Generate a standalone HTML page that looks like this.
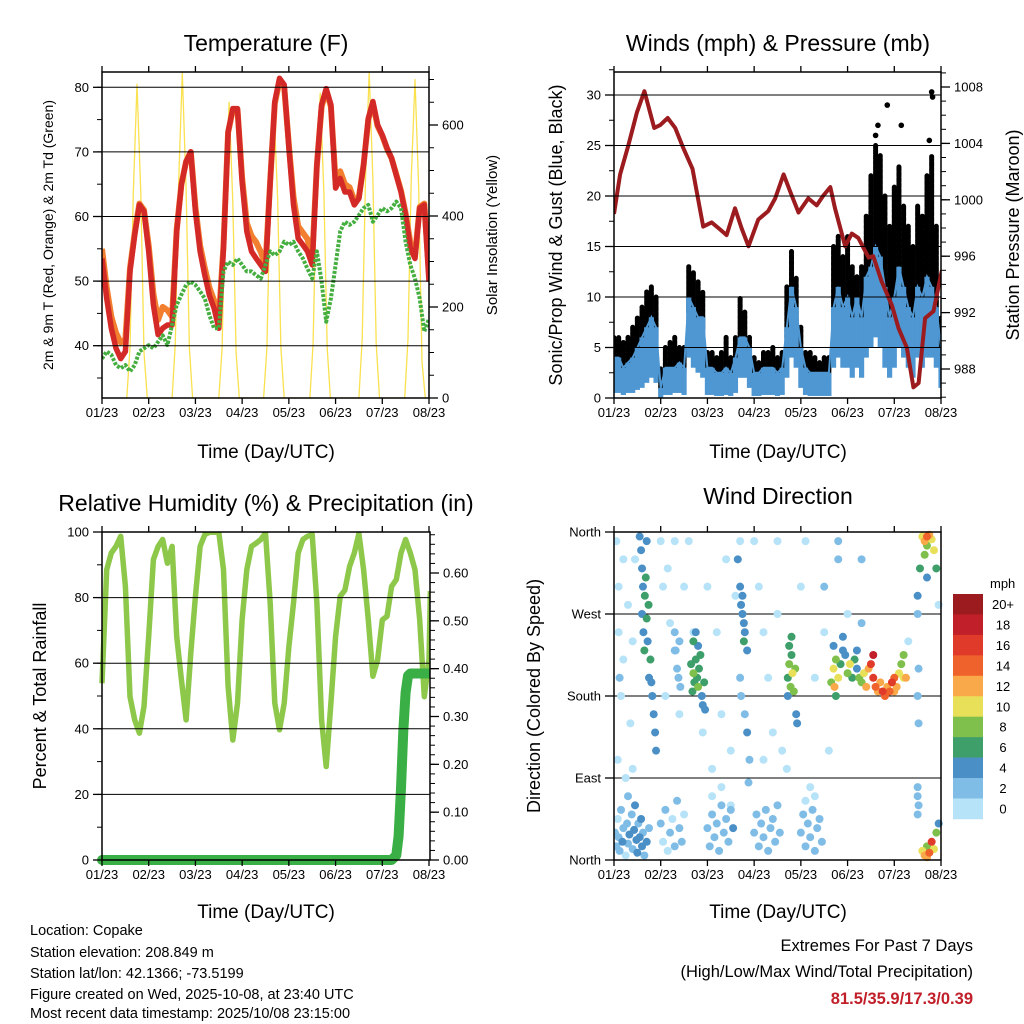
<!DOCTYPE html>
<html><head><meta charset="utf-8"><title>Station Meteogram - Copake</title>
<style>
html,body{margin:0;padding:0;background:#fff;}
svg{display:block;font-family:"Liberation Sans",Arial,sans-serif;}
</style></head>
<body>
<svg id="fig" width="1024" height="1024" viewBox="0 0 1024 1024" xmlns="http://www.w3.org/2000/svg">
<rect width="1024" height="1024" fill="#fff"/>
<g id="g"></g>
<text x="266" y="51" font-size="23" text-anchor="middle">Temperature (F)</text>
<text x="778" y="51" font-size="23" text-anchor="middle">Winds (mph) &amp; Pressure (mb)</text>
<text x="266" y="511" font-size="23" text-anchor="middle">Relative Humidity (%) &amp; Precipitation (in)</text>
<text x="778" y="504" font-size="23" text-anchor="middle">Wind Direction</text>
<text x="266" y="458" font-size="19" text-anchor="middle">Time (Day/UTC)</text>
<text x="778" y="458" font-size="19" text-anchor="middle">Time (Day/UTC)</text>
<text x="266" y="918" font-size="19" text-anchor="middle">Time (Day/UTC)</text>
<text x="778" y="918" font-size="19" text-anchor="middle">Time (Day/UTC)</text>
<text transform="translate(53,235) rotate(-90)" font-size="14" text-anchor="middle">2m &amp; 9m T (Red, Orange) &amp; 2m Td (Green)</text>
<text transform="translate(497,235) rotate(-90)" font-size="15" text-anchor="middle">Solar Insolation (Yellow)</text>
<text transform="translate(562,235) rotate(-90)" font-size="18" text-anchor="middle">Sonic/Prop Wind &amp; Gust (Blue, Black)</text>
<text transform="translate(1019,235) rotate(-90)" font-size="18" text-anchor="middle">Station Pressure (Maroon)</text>
<text transform="translate(46,696) rotate(-90)" font-size="18" text-anchor="middle">Percent &amp; Total Rainfall</text>
<text transform="translate(540,696) rotate(-90)" font-size="18" text-anchor="middle">Direction (Colored By Speed)</text>
<g font-size="14.5">
<text x="30" y="935">Location: Copake</text>
<text x="30" y="957">Station elevation: 208.849 m</text>
<text x="30" y="978">Station lat/lon: 42.1366; -73.5199</text>
<text x="30" y="999">Figure created on Wed, 2025-10-08, at 23:40 UTC</text>
<text x="30" y="1018">Most recent data timestamp: 2025/10/08 23:15:00</text>
</g>
<text x="973" y="951" font-size="16.5" text-anchor="end">Extremes For Past 7 Days</text>
<text x="973" y="977" font-size="16.5" text-anchor="end">(High/Low/Max Wind/Total Precipitation)</text>
<text x="973" y="1004" font-size="16.5" font-weight="bold" fill="#c1202a" text-anchor="end">81.5/35.9/17.3/0.39</text>
</svg>
<script>
// ---------- DATA ----------
const dayTicks = ["01/23","02/23","03/23","04/23","05/23","06/23","07/23","08/23"];
const sampleStep = 0.1; // days per sample
const tempRed = [53.5,47.3,42.7,39.6,38.0,39.1,51.5,57.1,61.8,60.8,54.6,46.3,41.7,42.7,43.2,43.2,57.7,64.9,68.5,70.0,60.8,54.6,50.9,47.8,45.8,42.7,55.1,73.1,76.7,76.7,65.4,57.7,54.6,53.5,52.5,51.5,65.4,77.8,81.4,80.4,70.6,61.8,56.6,55.6,54.6,52.5,68.0,77.3,79.8,77.3,64.4,65.9,63.8,63.8,61.8,62.8,68.0,75.2,77.8,74.2,72.6,70.6,69.0,66.4,63.8,60.2,55.1,53.5,61.3,61.8,49.9];
const tempOrange = [55.0,49.0,44.5,42.0,40.5,41.0,52.0,57.5,62.0,61.0,55.5,48.0,44.0,46.0,45.5,44.5,58.0,65.0,68.5,70.0,61.5,55.5,52.0,49.0,47.0,44.0,55.5,73.0,76.5,76.5,66.0,59.0,57.0,56.0,54.5,52.5,65.5,77.5,81.0,80.0,71.0,63.0,58.5,57.5,56.5,53.5,68.0,77.0,79.5,77.0,65.5,67.0,65.0,64.5,62.5,63.0,68.0,75.0,77.5,74.0,72.5,70.5,69.0,66.5,64.0,60.5,56.0,54.0,61.5,62.0,51.0];
const dewGreen = [38.0,39.1,38.6,37.0,36.5,37.0,36.0,37.0,39.1,39.6,40.1,39.6,40.6,41.6,40.1,43.2,46.3,47.9,49.4,49.9,49.4,48.4,47.3,44.7,42.7,42.7,51.5,53.0,52.5,53.5,52.5,51.5,51.5,50.9,50.4,52.5,54.6,54.0,54.6,56.1,55.6,56.1,54.6,53.5,51.9,50.4,54.6,49.9,43.7,47.3,52.5,57.7,59.2,58.7,59.2,60.2,61.3,61.8,59.2,60.2,61.3,60.8,61.3,62.3,61.3,56.1,52.5,50.4,47.3,42.2,44.2];
const solarT = [0.53,0.60,0.67,0.75,0.83,0.90,0.97, 1.50,1.57,1.64,1.72,1.80,1.87,1.94, 2.50,2.57,2.64,2.72,2.80,2.87,2.94, 3.46,3.53,3.60,3.68,3.76,3.83,3.90, 4.45,4.52,4.59,4.67,4.75,4.82,4.89, 5.50,5.57,5.64,5.72,5.80,5.87,5.94, 6.48,6.55,6.62,6.70,6.78,6.85,6.92];
const solarV = [0,110,450,690,450,100,0, 0,120,470,715,460,110,0, 0,110,440,650,430,100,0, 0,110,450,640,440,110,0, 0,120,460,670,450,110,0, 0,130,480,716,480,120,0, 0,130,480,700,460,80,0];
const windLo = [0.5,0.5,0.3,0.5,0.5,0.8,1,1.5,2,1.5,0,0.3,0.3,0.5,0.5,0.3,4,3,2.5,2,0.3,0.3,0.2,0.2,0.3,0.2,0.5,2,2,1,0.2,0.2,0.3,0.3,0.3,0.2,0.3,2,4,3,1,0.3,0.2,0.2,0.2,0.2,0.2,3,4,3,3,2,3,2,4,5,6,5,3,2,3,5,4,3,2,4,3,4,4,3,1];
const windHi = [4,4,3,3.5,4,5,6,7,8,7,1,3,3,3,3.5,3,10,9,8,8,3,3,2.5,2.5,3,2.5,4,6,6,5,2.5,2.5,3,3,3,2.5,3,7,11,9,5,3,2.5,2.5,2.5,2.5,2.5,9,11,9,10,8,10,8,12,13,15,14,11,8,10,13,11,9,8,11,10,12,11,9,5];
const gustHi = [6,6,5.5,6,7,8,9,10.5,11,10,3,5,5.5,6,5,5,13,12.5,11.5,10.5,4.5,4.5,4,4.5,6,4,6,10,8.5,6,4,3.5,4.5,4.5,5,4,4.5,11,14.5,12,7,4.5,4.5,4,3.5,4,4,15,16,14,16,13,12,13,18,22,25,24,20,17,21,23,19,17,15,19,18,22,24,17,8];
const gustExtraT = [5.6,5.65,5.85,6.15,6.75,6.8,6.82];
const gustExtraV = [26,27,29,27,25.5,30.3,29.8];
const presT = [0.0,0.13,0.31,0.49,0.65,0.86,0.99,1.15,1.31,1.48,1.68,1.91,2.09,2.27,2.41,2.59,2.73,2.88,3.09,3.30,3.45,3.63,3.77,3.95,4.16,4.34,4.48,4.63,4.73,4.95,5.09,5.23,5.45,5.55,5.73,5.95,6.09,6.27,6.41,6.52,6.66,6.84,7.02];
const presV = [999.0,1001.8,1003.9,1006.2,1007.7,1005.1,1005.3,1005.8,1005.1,1003.7,1002.2,998.1,998.4,997.9,997.5,999.4,998.0,996.7,998.6,999.2,1000.1,1001.8,1000.6,999.1,1000.1,999.6,1000.3,1000.9,999.4,996.7,997.6,997.3,995.9,996.0,994.2,992.5,990.9,989.5,986.7,987.0,991.6,992.1,995.0];
const rhV = [53.9,88.5,93.6,95.6,98.7,83.4,49.8,42.7,38.7,46.8,68.2,91.6,95.6,97.7,90.5,95.6,68.2,55.0,42.7,63.1,80.3,95.6,99.2,99.9,99.9,99.9,88.5,52.9,36.6,47.8,73.2,88.5,95.6,96.6,97.7,99.7,78.3,47.8,39.7,47.8,65.1,78.3,93.6,97.7,98.7,99.2,78.3,42.7,28.5,47.8,68.2,80.4,82.3,89.5,93.6,99.5,88.5,73.2,56.0,61.0,73.2,74.3,83.4,85.5,93.6,97.7,93.6,88.5,73.2,49.8,61.0];
const rhEndT = [7.0,7.03];
const rhEndV = [61.0,82.0];
const precipT = [0,6.2,6.3,6.35,6.4,6.45,6.5,6.55,6.6,7.03];
const precipV = [0,0,0.01,0.05,0.15,0.27,0.35,0.385,0.39,0.39];
const dirT = [0.02,0.05,0.08,0.1,0.12,0.15,0.18,0.2,0.25,0.28,0.3,0.33,0.38,0.4,0.43,0.45,0.48,0.5,0.52,0.55,0.58,0.6,0.62,0.65,0.7,0.75,
0.55,0.58,0.6,0.62,0.6,0.63,0.65,0.66,0.7,0.72,0.75,0.78,0.8,0.82,0.85,0.88,0.9,0.68,0.7,0.74,
0.05,0.1,0.1,0.12,0.15,0.2,0.08,0.25,0.3,0.35,0.4,0.45,0.2,0.3,0.4,1.0,1.05,1.1,1.15,1.2,1.3,1.3,1.4,1.5,1.6,1.7,1.9,2.0,2.1,2.2,2.3,2.4,2.5,2.6,2.7,2.5,3.0,3.1,3.2,3.2,3.3,3.4,3.5,3.5,3.6,3.7,4.0,4.1,4.2,4.3,4.5,4.5,4.6,4.8,4.8,5.0,5.3,5.3,6.5,6.3,6.95,
1.3,1.32,1.35,1.38,1.4,1.42,
1.65,1.7,1.72,1.75,1.78,1.8,1.82,1.85,1.68,1.88,1.9,1.93,1.7,1.75,1.8,1.95,
1.0,1.05,1.1,1.15,1.2,1.25,1.3,1.35,1.4,1.45,1.5,
2.0,2.05,2.1,2.15,2.2,2.25,2.3,2.35,2.4,2.45,2.5,2.55,2.1,2.3,
2.65,2.7,2.72,2.75,2.78,2.8,2.75,2.85,2.7,2.72,2.8,2.85,2.9,2.88,2.78,
3.0,3.05,3.1,3.15,3.2,3.25,3.3,3.35,3.4,3.45,3.5,3.55,
3.72,3.75,3.78,3.8,3.82,3.85,3.75,3.88,3.8,3.72,3.9,3.92,
4.0,4.05,4.1,4.15,4.2,4.25,4.3,4.35,4.4,4.45,4.1,4.3,
4.65,4.7,4.72,4.75,4.8,4.85,4.9,4.95,5.0,5.05,5.1,5.15,5.2,5.25,5.3,5.35,5.4,5.45,5.5,5.55,5.6,5.65,5.7,5.75,5.8,5.85,5.9,5.95,6.0,6.05,6.1,6.15,6.2,6.25,4.7,4.75,4.9,5.2,5.55,6.0,6.2,
6.5,6.5,6.52,6.52,6.5,6.5,6.52,6.5,
6.6,6.65,6.7,6.75,6.8,6.85,6.65,6.7,6.9,6.55,6.7,
6.6,6.65,6.7,6.75,6.8,6.85,6.9,6.95,6.7];
const dirD = [30,15,45,25,10,55,20,35,5,40,18,28,50,12,33,60,22,8,40,25,45,15,30,5,20,35,
355,340,320,300,270,250,230,290,265,240,200,220,195,180,160,140,120,310,350,280,
350,300,250,200,180,220,110,90,70,150,240,330,330,280,100,350,300,180,320,260,350,230,160,300,350,250,140,300,100,250,160,330,120,290,350,60,350,300,250,110,200,140,350,270,120,100,300,350,80,200,300,250,120,330,350,270,330,260,180,240,280,
250,230,210,200,240,190,
215,205,195,220,200,190,210,225,185,180,170,195,240,250,235,165,
40,20,55,10,30,45,15,65,35,20,50,
35,15,50,25,40,10,60,30,45,20,55,35,70,80,
330,300,280,270,260,250,290,230,200,180,160,140,110,85,240,
30,50,15,40,25,55,10,35,45,20,60,30,
200,215,190,225,205,185,235,210,245,180,160,150,
30,50,15,40,25,55,10,35,45,20,65,70,
195,210,190,220,200,215,230,225,205,215,200,220,210,200,195,205,190,210,215,200,190,185,195,185,180,190,185,195,200,190,205,215,225,200,235,180,245,230,225,185,200,
290,270,210,150,80,70,60,50,
355,350,345,357,352,340,335,355,320,320,310,
10,5,15,8,20,12,30,40,3];
const dirS = [2,2,1,3,2,2,4,2,1,3,2,4,2,3,4,4,5,4,3,4,5,4,2,3,4,3,
4,4,5,4,5,4,6,7,6,4,5,6,4,5,4,5,4,7,4,7,
1,1,1,2,1,1,1,1,2,1,1,1,1,1,1,1,1,1,1,1,1,2,1,1,1,1,1,1,1,1,1,1,1,1,1,1,1,1,1,1,1,1,1,1,1,1,1,1,1,1,2,1,1,2,2,1,2,2,2,1,1,
2,2,2,3,2,2,
7,8,7,6,7,8,7,6,7,5,4,6,6,5,4,4,
2,1,2,1,2,1,2,3,3,2,1,
2,2,3,2,3,2,2,3,2,3,2,4,1,1,
4,4,5,4,4,5,4,4,3,3,2,4,3,3,7,
2,2,2,3,2,2,3,2,3,2,2,2,
7,8,9,7,10,8,6,8,6,4,4,4,
3,2,2,2,3,2,2,3,2,2,1,1,
8,10,12,9,11,7,5,4,8,10,7,6,5,8,9,11,12,13,16,17,14,12,13,16,15,12,14,17,15,12,10,9,8,13,4,6,4,5,18,13,11,
4,3,2,3,2,2,2,3,
10,12,9,13,11,10,8,14,7,6,4,
10,12,9,14,16,11,8,5,13];
const speedBins = ["0","2","4","6","8","10","12","14","16","18","20+"];
const speedColors = ["#b6e3f8","#80bde6","#4a8fc6","#3f9f6a","#7fc04c","#e9e05a","#f9a84a","#f0622b","#e03a2a","#c1202a","#9b1b1e"];

// ---------- HELPERS ----------
const NS = "http://www.w3.org/2000/svg";
const root = document.getElementById("g");
function el(tag, attrs, parent) {
  const e = document.createElementNS(NS, tag);
  for (const k in attrs) e.setAttribute(k, attrs[k]);
  (parent || root).appendChild(e);
  return e;
}
function scale(d0, d1, r0, r1) { return v => r0 + (v - d0) / (d1 - d0) * (r1 - r0); }
function pathFrom(xs, ys, sx, sy) {
  let d = "";
  for (let i = 0; i < xs.length; i++) d += (i ? "L" : "M") + sx(xs[i]).toFixed(1) + "," + sy(ys[i]).toFixed(1);
  return d;
}
function idxT(arr) { return arr.map((_, i) => i * sampleStep); }

function panel(P, name) {
  const g = el("g", {});
  
  
  return g;
}
function frame(P, name, parent) {
  const r = el("rect", {x: P.L, y: P.T, width: P.R - P.L, height: P.B - P.T, fill: "none", stroke: "#000", "stroke-width": 1.5}, parent);
  
  
}
function xAxis(P, sx, name, parent) {
  for (let i = 0; i < dayTicks.length; i++) {
    const x = sx(i);
    const t1 = el("line", {x1: x, x2: x, y1: P.B, y2: P.B + 6, stroke: "#000", "stroke-width": 1.3}, parent);
    
    
    const t2 = el("line", {x1: x, x2: x, y1: P.T, y2: P.T - 6, stroke: "#000", "stroke-width": 1.3}, parent);
    
    
    const lb = el("text", {x: x, y: P.B + 19, "font-size": 13, "text-anchor": "middle"}, parent);
    lb.textContent = dayTicks[i];
    
    
  }
}
function yAxis(P, sy, majors, minors, labels, side, grid, name, parent) {
  const x0 = side === "left" ? P.L : P.R;
  const dir = side === "left" ? -1 : 1;
  minors.forEach(v => {
    const y = sy(v);
    const t = el("line", {x1: x0, x2: x0 + dir * 5, y1: y, y2: y, stroke: "#000", "stroke-width": 1}, parent);
    
    
  });
  majors.forEach((v, i) => {
    const y = sy(v);
    const t = el("line", {x1: x0, x2: x0 + dir * 9, y1: y, y2: y, stroke: "#000", "stroke-width": 1.3}, parent);
    
    
    if (grid) {
      const gl = el("line", {x1: P.L, x2: P.R, y1: y, y2: y, stroke: "#000", "stroke-width": 1}, parent);
      
      
    }
    const lb = el("text", {x: x0 + dir * 13, y: y + 4.5, "font-size": 13, "text-anchor": side === "left" ? "end" : "start"}, parent);
    lb.textContent = labels[i];
    
    
  });
}
function range(a, b, s) { const r = []; for (let v = a; v <= b + 1e-9; v += s) r.push(+v.toFixed(4)); return r; }

// ---------- PANEL A: TEMPERATURE ----------
const PA = {L: 102, R: 429, T: 72, B: 398};
const gA = panel(PA, "temperature");
const sxA = scale(0, 7, PA.L, PA.R);
const syA = scale(40, 80, 345.7, 87.3);
const syS = scale(0, 600, PA.B, 125);
const clipA = el("clipPath", {id: "clipA"}, gA);
el("rect", {x: PA.L, y: PA.T, width: PA.R - PA.L, height: PA.B - PA.T}, clipA);
const mA = el("g", {"clip-path": "url(#clipA)"}, gA);
yAxis(PA, syA, [40,50,60,70,80], range(35,80,5), ["40","50","60","70","80"], "left", true, "temperature-y", gA);
yAxis(PA, syS, [0,200,400,600], range(0,700,50), ["0","200","400","600"], "right", false, "solar-y", gA);
const solar = el("path", {d: pathFrom(solarT, solarV, sxA, syS), fill: "none", stroke: "#f9e150", "stroke-width": 1.3, "stroke-linejoin": "round"}, mA);


const orange = el("path", {d: pathFrom(idxT(tempOrange), tempOrange, sxA, syA), fill: "none", stroke: "#f27e2f", "stroke-width": 6, "stroke-linejoin": "round"}, mA);


const red = el("path", {d: pathFrom(idxT(tempRed), tempRed, sxA, syA), fill: "none", stroke: "#d42a27", "stroke-width": 5.5, "stroke-linejoin": "round"}, mA);


const green = el("path", {d: pathFrom(idxT(dewGreen), dewGreen, sxA, syA), fill: "none", stroke: "#44ae3f", "stroke-width": 4, "stroke-linejoin": "round", "stroke-dasharray": "3 1.5"}, mA);


frame(PA, "temperature", gA);
xAxis(PA, sxA, "temperature", gA);

// ---------- PANEL B: WINDS & PRESSURE ----------
const PB = {L: 614, R: 941, T: 72, B: 398};
const gB = panel(PB, "winds");
const sxB = scale(0, 7, PB.L, PB.R);
const syW = scale(0, 30, PB.B, 95);
const syP = scale(988, 1008, 369, 87);
const clipB = el("clipPath", {id: "clipB"}, gB);
el("rect", {x: PB.L, y: PB.T - 4, width: PB.R - PB.L, height: PB.B - PB.T + 4}, clipB);
const mB = el("g", {"clip-path": "url(#clipB)"}, gB);
yAxis(PB, syW, [0,5,10,15,20,25,30], range(0,32.5,2.5), ["0","5","10","15","20","25","30"], "left", true, "wind-y", gB);
yAxis(PB, syP, [988,992,996,1000,1004,1008], range(986,1009,1), ["988","992","996","1000","1004","1008"], "right", false, "pressure-y", gB);
const tW = idxT(windHi);
for (let i = 0; i < tW.length; i++) {
  const x = sxB(tW[i]);
  const gb = el("line", {x1: x, x2: x, y1: syW(windHi[i] * 0.85), y2: syW(gustHi[i]), stroke: "#000", "stroke-width": 5, "stroke-linecap": "round", "stroke-dasharray": "4 1.5"}, mB);
  
  
}
for (let i = 0; i < gustExtraT.length; i++) {
  const c = el("circle", {cx: sxB(gustExtraT[i]), cy: syW(gustExtraV[i]), r: 2.8, fill: "#000"}, mB);
  
  
}
for (let i = 0; i < tW.length; i++) {
  const x = sxB(tW[i]);
  const wb = el("line", {x1: x, x2: x, y1: syW(windLo[i]), y2: syW(windHi[i]), stroke: "#4f97d2", "stroke-width": 5.2, "stroke-linecap": "butt"}, mB);
  
  
}
const wl = el("path", {d: pathFrom(tW, windHi, sxB, syW), fill: "none", stroke: "#4f97d2", "stroke-width": 2}, mB);


const pres = el("path", {d: pathFrom(presT, presV, sxB, syP), fill: "none", stroke: "#9b1b1e", "stroke-width": 4, "stroke-linejoin": "round"}, mB);


frame(PB, "winds", gB);
xAxis(PB, sxB, "winds", gB);

// ---------- PANEL C: RH & PRECIP ----------
const PC = {L: 102, R: 430, T: 532, B: 860};
const gC = panel(PC, "humidity");
const sxC = scale(0, 7, PC.L, 429);
const syH = scale(0, 100, PC.B, PC.T);
const syR = scale(0, 0.6, PC.B, 573);
const clipC = el("clipPath", {id: "clipC"}, gC);
el("rect", {x: PC.L - 6, y: PC.T, width: PC.R - PC.L + 6, height: PC.B - PC.T + 6}, clipC);
const mC = el("g", {"clip-path": "url(#clipC)"}, gC);
yAxis(PC, syH, [0,20,40,60,80,100], range(0,100,10), ["0","20","40","60","80","100"], "left", true, "humidity-y", gC);
yAxis(PC, syR, [0,0.1,0.2,0.3,0.4,0.5,0.6], range(0,0.68,0.02), ["0.00","0.10","0.20","0.30","0.40","0.50","0.60"], "right", false, "precip-y", gC);
const rh = el("path", {d: pathFrom(idxT(rhV).concat(rhEndT), rhV.concat(rhEndV), sxC, syH), fill: "none", stroke: "#8dc84b", "stroke-width": 5.5, "stroke-linejoin": "round"}, mC);


const pr = el("path", {d: pathFrom(precipT, precipV, sxC, syR), fill: "none", stroke: "#3aaf45", "stroke-width": 10, "stroke-linejoin": "round", "stroke-linecap": "round"}, mC);


frame(PC, "humidity", gC);
xAxis(PC, sxC, "humidity", gC);

// ---------- PANEL D: WIND DIRECTION ----------
const PD = {L: 614, R: 941, T: 532, B: 860};
const gD = panel(PD, "direction");
const sxD = scale(0, 7, PD.L, PD.R);
const syD = scale(0, 360, PD.B, PD.T);
const dirMaj = [0, 90, 180, 270, 360];
const dirLab = ["North", "East", "South", "West", "North"];
yAxis(PD, syD, dirMaj, [], dirLab, "left", true, "direction-y", gD);
const clipD = el("clipPath", {id: "clipD"}, gD);
el("rect", {x: PD.L, y: PD.T - 4, width: PD.R - PD.L + 4, height: PD.B - PD.T + 8}, clipD);
const mD = el("g", {"clip-path": "url(#clipD)"}, gD);
function binOf(s) { return Math.min(10, Math.floor(s / 2)); }
const order = dirS.map((s, i) => i).sort((a, b) => dirS[a] - dirS[b]);
order.forEach(i => {
  const c = el("circle", {cx: sxD(dirT[i]), cy: syD(dirD[i]), r: 4, fill: speedColors[binOf(dirS[i])]}, mD);
  
  
});
frame(PD, "direction", gD);
xAxis(PD, sxD, "direction", gD);
// colorbar
const cb = el("g", {}, gD);


const cbTop = 594, cbH = 20.45;
const mphT = el("text", {x: 990, y: 588, "font-size": 13}, cb);
mphT.textContent = "mph";


for (let k = 0; k < speedBins.length; k++) {
  const j = speedBins.length - 1 - k;
  const r = el("rect", {x: 953, y: cbTop + k * cbH, width: 30, height: cbH + 0.3, fill: speedColors[j]}, cb);
  
  
  const t = el("text", {x: 1003, y: cbTop + k * cbH + 15, "font-size": 13, "text-anchor": "middle"}, cb);
  t.textContent = speedBins[j];
  
  
}
</script>
</body></html>
